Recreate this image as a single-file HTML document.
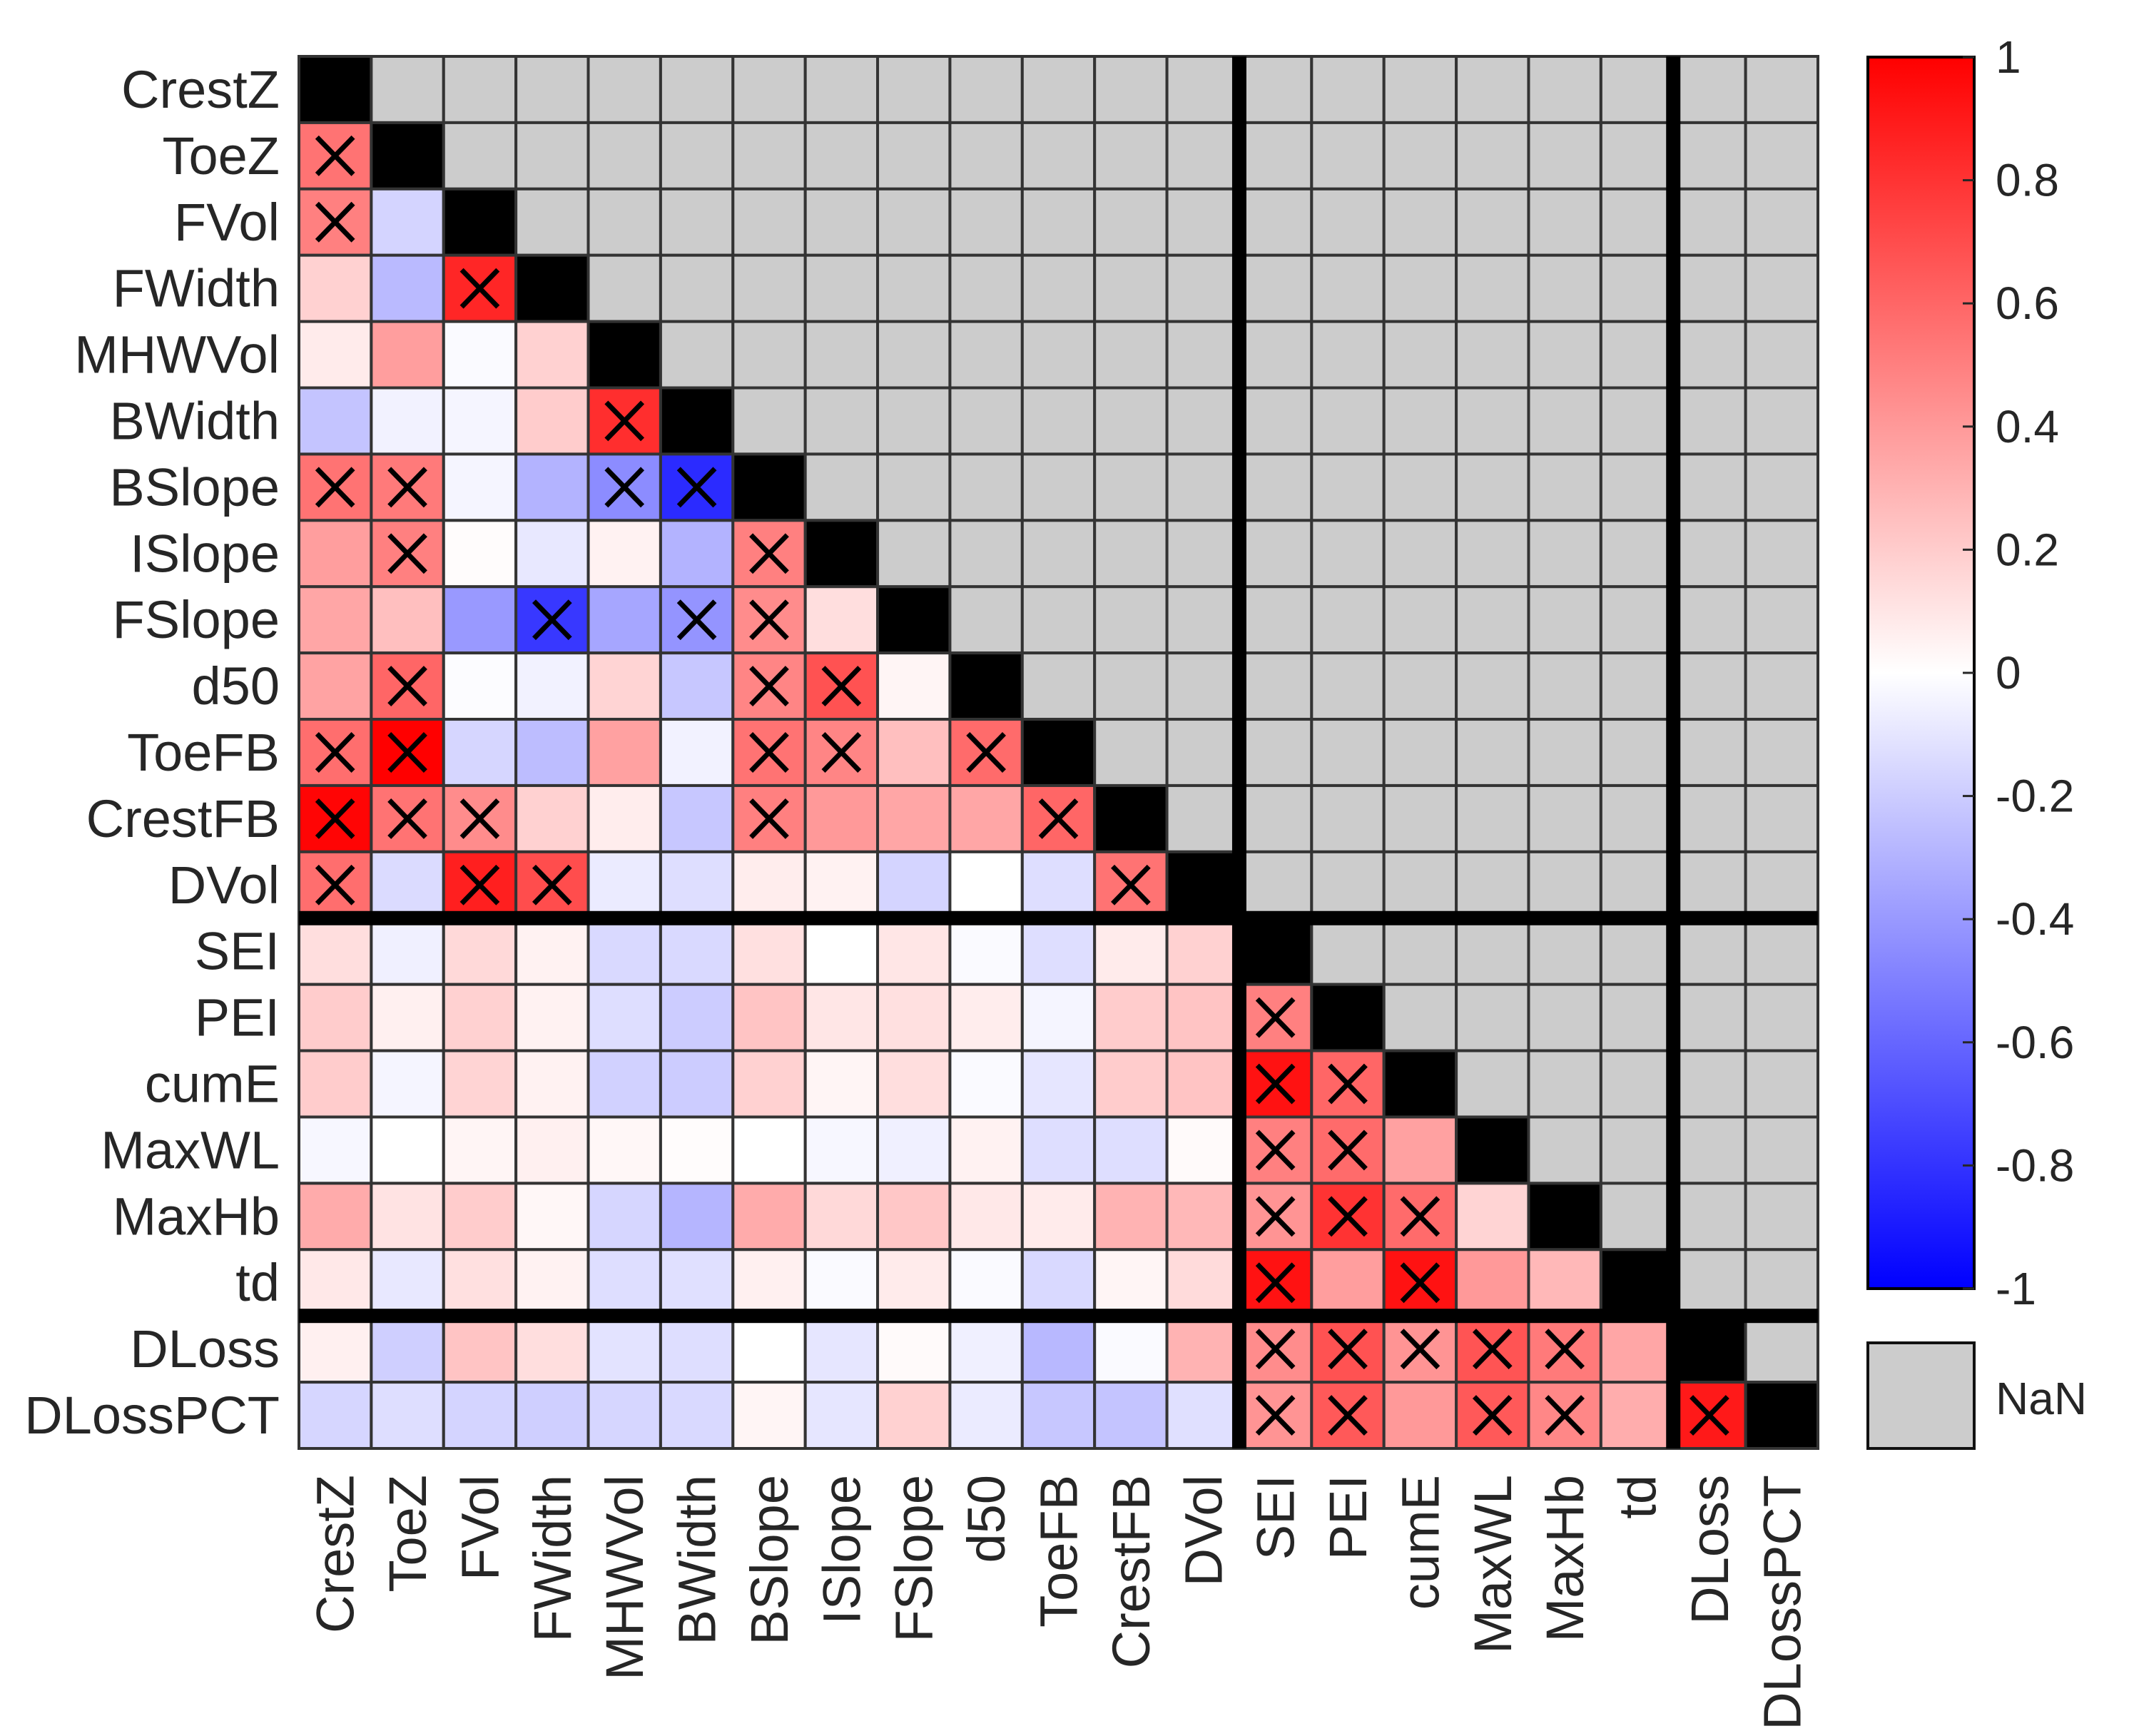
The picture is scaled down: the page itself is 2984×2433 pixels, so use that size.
<!DOCTYPE html>
<html><head><meta charset="utf-8"><style>
html,body{margin:0;padding:0;background:#fff;}
svg{display:block;font-family:"Liberation Sans",Arial,sans-serif;}
</style></head><body>
<svg id="chart" width="2984" height="2433" viewBox="0 0 2984 2433" xmlns="http://www.w3.org/2000/svg">
<defs>
<linearGradient id="cbgrad" x1="0" y1="0" x2="0" y2="1">
<stop offset="0" stop-color="#ff0000"/><stop offset="0.5" stop-color="#ffffff"/><stop offset="1" stop-color="#0000ff"/>
</linearGradient>
</defs>
<g id="cells"></g><g id="marks"></g><g id="seps"></g><g id="ylabels"></g><g id="xlabels"></g><g id="cbar"></g>
</svg>
<script>
const labels = ["CrestZ","ToeZ","FVol","FWidth","MHWVol","BWidth","BSlope","ISlope","FSlope","d50","ToeFB","CrestFB","DVol","SEI","PEI","cumE","MaxWL","MaxHb","td","DLoss","DLossPCT"];
const rowToeZ=[0.55], rowFVol=[0.5,-0.17], rowFWidth=[0.18,-0.27,0.85], rowMHWVol=[0.08,0.38,-0.02,0.18];
const rowBWidth=[-0.23,-0.05,-0.04,0.2,0.82];
const rowBSlope=[0.55,0.52,-0.04,-0.3,-0.45,-0.83];
const rowISlope=[0.38,0.5,0.01,-0.09,0.05,-0.3,0.5];
const rowFSlope=[0.35,0.25,-0.4,-0.78,-0.35,-0.42,0.45,0.13];
const rowD50=[0.36,0.6,-0.01,-0.05,0.17,-0.22,0.48,0.68,0.04];
const rowToeFB=[0.57,1.0,-0.16,-0.26,0.37,-0.05,0.55,0.48,0.25,0.58];
const rowCrestFB=[0.98,0.55,0.45,0.18,0.07,-0.22,0.5,0.4,0.35,0.35,0.6];
const rowDVol=[0.57,-0.14,0.88,0.7,-0.08,-0.13,0.07,0.05,-0.17,0,-0.13,0.55];
const rowSEI=[0.13,-0.06,0.15,0.05,-0.15,-0.15,0.12,0,0.1,-0.02,-0.13,0.08,0.18];
const rowPEI=[0.2,0.06,0.18,0.05,-0.13,-0.2,0.23,0.1,0.12,0.07,-0.04,0.2,0.23,0.5];
const rowCumE=[0.2,-0.04,0.17,0.05,-0.18,-0.2,0.18,0.04,0.13,-0.02,-0.1,0.2,0.23,0.93,0.6];
const rowMaxWL=[-0.03,0,0.04,0.06,0.03,0.01,0,-0.03,-0.06,0.05,-0.13,-0.13,0.02,0.5,0.58,0.37];
const rowMaxHb=[0.33,0.11,0.2,0.03,-0.16,-0.29,0.33,0.15,0.22,0.09,0.08,0.3,0.28,0.42,0.8,0.58,0.17];
const rowTd=[0.09,-0.09,0.12,0.05,-0.13,-0.12,0.06,-0.02,0.08,-0.02,-0.15,0.04,0.14,0.93,0.38,0.93,0.4,0.28];
const rowDLoss=[0.06,-0.19,0.23,0.13,-0.11,-0.13,0,-0.1,0.02,-0.06,-0.28,-0.02,0.3,0.45,0.68,0.42,0.67,0.52,0.35];
const rowDLossPCT=[-0.16,-0.13,-0.17,-0.19,-0.16,-0.15,0.04,-0.1,0.18,-0.08,-0.22,-0.23,-0.12,0.42,0.65,0.4,0.65,0.47,0.32,0.9];
const values=[[],rowToeZ,rowFVol,rowFWidth,rowMHWVol,rowBWidth,rowBSlope,rowISlope,rowFSlope,rowD50,rowToeFB,rowCrestFB,rowDVol,rowSEI,rowPEI,rowCumE,rowMaxWL,rowMaxHb,rowTd,rowDLoss,rowDLossPCT];
const sig=[[],[1],[1,0],[0,0,1],[0,0,0,0],[0,0,0,0,1],[1,1,0,0,1,1],[0,1,0,0,0,0,1],[0,0,0,1,0,1,1,0],[0,1,0,0,0,0,1,1,0],
[1,1,0,0,0,0,1,1,0,1],[1,1,1,0,0,0,1,0,0,0,1],[1,0,1,1,0,0,0,0,0,0,0,1],
[0,0,0,0,0,0,0,0,0,0,0,0,0],[0,0,0,0,0,0,0,0,0,0,0,0,0,1],[0,0,0,0,0,0,0,0,0,0,0,0,0,1,1],
[0,0,0,0,0,0,0,0,0,0,0,0,0,1,1,0],[0,0,0,0,0,0,0,0,0,0,0,0,0,1,1,1,0],[0,0,0,0,0,0,0,0,0,0,0,0,0,1,0,1,0,0],
[0,0,0,0,0,0,0,0,0,0,0,0,0,1,1,1,1,1,0],[0,0,0,0,0,0,0,0,0,0,0,0,0,1,1,0,1,1,0,1]];
const cbTicks=[1,0.8,0.6,0.4,0.2,0,-0.2,-0.4,-0.6,-0.8,-1];
const cbTickLabels=["1","0.8","0.6","0.4","0.2","0","-0.2","-0.4","-0.6","-0.8","-1"];
const sepAfter=[13,19];

const NS="http://www.w3.org/2000/svg";
const L=419,T=79,R=2548,B=2030,N=labels.length;
const cw=(R-L)/N, ch=(B-T)/N;
const xs=i=>L+i*cw, ys=i=>T+i*ch;
function col(v){v=Math.max(-1,Math.min(1,v));
 if(v>=0){const c=Math.round(255*(1-v));return `rgb(255,${c},${c})`;}
 const c=Math.round(255*(1+v));return `rgb(${c},${c},255)`;}
function mk(tag,attrs,parent){const e=document.createElementNS(NS,tag);for(const k in attrs)e.setAttribute(k,attrs[k]);parent.appendChild(e);return e;}
const gC=document.getElementById('cells'),gM=document.getElementById('marks'),gS=document.getElementById('seps');
for(let r=0;r<N;r++)for(let c=0;c<N;c++){
 let fill;
 if(r===c)fill='#000';else if(c>r)fill='#cccccc';else fill=col(values[r][c]);
 const e=mk('rect',{x:xs(c),y:ys(r),width:cw,height:ch,fill:fill,stroke:'#333',"stroke-width":4},gC);
 
 
 if(c<r&&sig[r][c]){
  const x0=xs(c)+cw*0.25,x1=xs(c)+cw*0.75,y0=ys(r)+ch*0.22,y1=ys(r)+ch*0.78;
  const p=mk('path',{d:`M${x0},${y0}L${x1},${y1}M${x1},${y0}L${x0},${y1}`,stroke:'#000',"stroke-width":7,fill:'none'},gM);
  
  
 }
}
mk('rect',{x:L,y:T,width:R-L,height:B-T,fill:'none',stroke:'#333',"stroke-width":4},gS);
sepAfter.forEach(k=>{
 const h=mk('rect',{x:L,y:ys(k)-10,width:R-L,height:20,fill:'#000'},gS);
 
 
 const v=mk('rect',{x:xs(k)-10,y:T,width:20,height:B-T,fill:'#000'},gS);
 
 
});
const gY=document.getElementById('ylabels'),gX=document.getElementById('xlabels');
labels.forEach((s,i)=>{
 const t=mk('text',{x:392,y:ys(i)+ch/2,"text-anchor":"end","dominant-baseline":"central","font-size":74,fill:'#262626'},gY);
 t.textContent=s;
 
 
 const cx=xs(i)+cw/2+26;
 const u=mk('text',{x:cx,y:2067,"text-anchor":"end","font-size":74,fill:'#262626',transform:`rotate(-90 ${cx} 2067)`},gX);
 u.textContent=s;
 
 
});
const gB=document.getElementById('cbar');
const cbL=2618,cbR=2767,cbT=80,cbB=1806;
const cy=v=>cbT+(1-v)/2*(cbB-cbT);
const cb=mk('rect',{x:cbL,y:cbT,width:cbR-cbL,height:cbB-cbT,fill:'url(#cbgrad)',stroke:'#000',"stroke-width":4},gB);


cbTicks.forEach((v,i)=>{
 mk('line',{x1:cbR-16,x2:cbR,y1:cy(v),y2:cy(v),stroke:'#262626',"stroke-width":3},gB);
 const t=mk('text',{x:2797,y:cy(v),"dominant-baseline":"central","font-size":64,fill:'#262626'},gB);
 t.textContent=cbTickLabels[i];
 
 
});
const nb=mk('rect',{x:cbL,y:1882,width:cbR-cbL,height:148,fill:'#cccccc',stroke:'#111',"stroke-width":4},gB);


const nt=mk('text',{x:2797,y:1960,"dominant-baseline":"central","font-size":64,fill:'#262626'},gB);
nt.textContent='NaN';


</script>
</body></html>
